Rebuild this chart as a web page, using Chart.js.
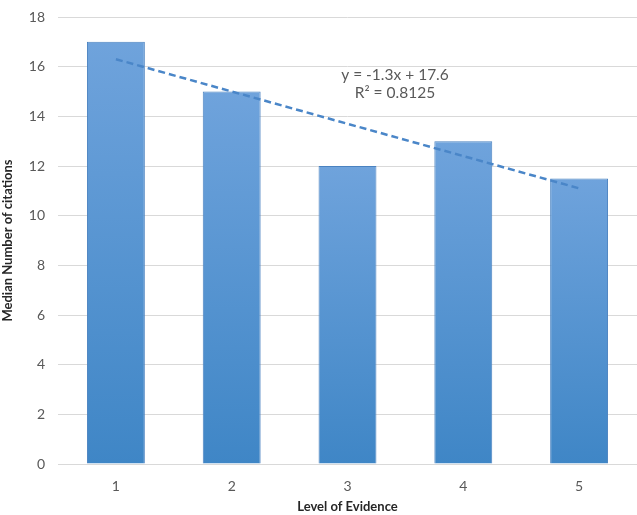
<!DOCTYPE html>
<html>
<head>
<meta charset="utf-8">
<script src="https://cdn.jsdelivr.net/npm/chart.js@4/dist/chart.umd.min.js"></script>
<style>
  html, body { margin: 0; padding: 0; background: #ffffff; }
  #wrap { width: 637px; height: 515px; position: relative; }
</style>
</head>
<body>
<div id="wrap"><canvas id="c" width="637" height="515"></canvas></div>
<script>
const categories = ["1", "2", "3", "4", "5"];
const medianCitations = [17, 15, 12, 13, 11.5];
const trendValues = [16.3, 15.0, 13.7, 12.4, 11.1];
const trendLabel = ["y = -1.3x + 17.6", "R\u00B2 = 0.8125"];
const yTicks = [0, 2, 4, 6, 8, 10, 12, 14, 16, 18];

const FONT = "Lato, 'Open Sans', 'Liberation Sans', sans-serif";

function barGradient(ctx) {
  const chart = ctx.chart;
  const ys = chart.scales.y;
  if (!ys || ctx.type !== 'data') return '#5b9bd5';
  const v = ctx.raw;
  const top = ys.getPixelForValue(v);
  const bottom = ys.getPixelForValue(0);
  if (!isFinite(top) || !isFinite(bottom)) return '#5b9bd5';
  const g = chart.ctx.createLinearGradient(0, top, 0, bottom);
  g.addColorStop(0, '#6fa3dc');
  g.addColorStop(1, '#3f86c6');
  return g;
}

const eqPlugin = {
  id: 'eqLabel',
  afterDatasetsDraw(chart) {
    const x = chart.scales.x.getPixelForValue(2.41);
    const y1 = chart.scales.y.getPixelForValue(15.67);
    const y2 = chart.scales.y.getPixelForValue(14.95);
    const c = chart.ctx;
    c.save();
    c.fillStyle = '#595959';
    c.font = "15.5px " + FONT;
    c.textAlign = 'center';
    c.textBaseline = 'middle';
    c.fillText(trendLabel[0], x, y1);
    c.fillText(trendLabel[1], x, y2);
    c.restore();
  }
};

new Chart(document.getElementById('c'), {
  data: {
    labels: categories,
    datasets: [
      {
        type: 'line',
        label: 'Linear trend',
        data: trendValues,
        borderColor: '#4a86c8',
        borderWidth: 2.5,
        borderDash: [7, 4],
        pointRadius: 0,
        fill: false,
        tension: 0,
        order: 0
      },
      {
        type: 'bar',
        label: 'Median Number of citations',
        data: medianCitations,
        backgroundColor: barGradient,
        borderColor: '#4a82c0',
        borderWidth: 1,
        categoryPercentage: 1.0,
        barPercentage: 0.5,
        order: 1
      }
    ]
  },
  options: {
    responsive: false,
    animation: false,
    devicePixelRatio: 1,
    layout: { padding: { top: 17, right: 0, bottom: 0, left: 0 } },
    plugins: {
      legend: { display: false },
      tooltip: { enabled: false }
    },
    scales: {
      x: {
        grid: { display: false },
        border: { display: true, color: '#d9d9d9', width: 1 },
        ticks: { color: '#595959', font: { family: FONT, size: 14 }, padding: 6 },
        title: {
          display: true,
          text: 'Level of Evidence',
          color: '#262626',
          font: { family: FONT, size: 13, weight: 'bold' },
          padding: { top: 8, bottom: 0 }
        },
        afterFit(s) { s.height = 51; }
      },
      y: {
        min: 0,
        max: 18,
        afterBuildTicks(s) { s.ticks = yTicks.map(v => ({ value: v })); },
        grid: { color: '#d9d9d9', drawTicks: false, lineWidth: 1 },
        border: { display: false },
        ticks: { color: '#595959', font: { family: FONT, size: 14 }, padding: 13 },
        title: {
          display: true,
          text: 'Median Number of citations',
          color: '#262626',
          font: { family: FONT, size: 13, weight: 'bold' },
          padding: { top: 0, bottom: 4 }
        },
        afterFit(s) { s.width = 58; s.paddingTop = 0; }
      }
    }
  },
  plugins: [eqPlugin]
});
</script>
</body>
</html>
